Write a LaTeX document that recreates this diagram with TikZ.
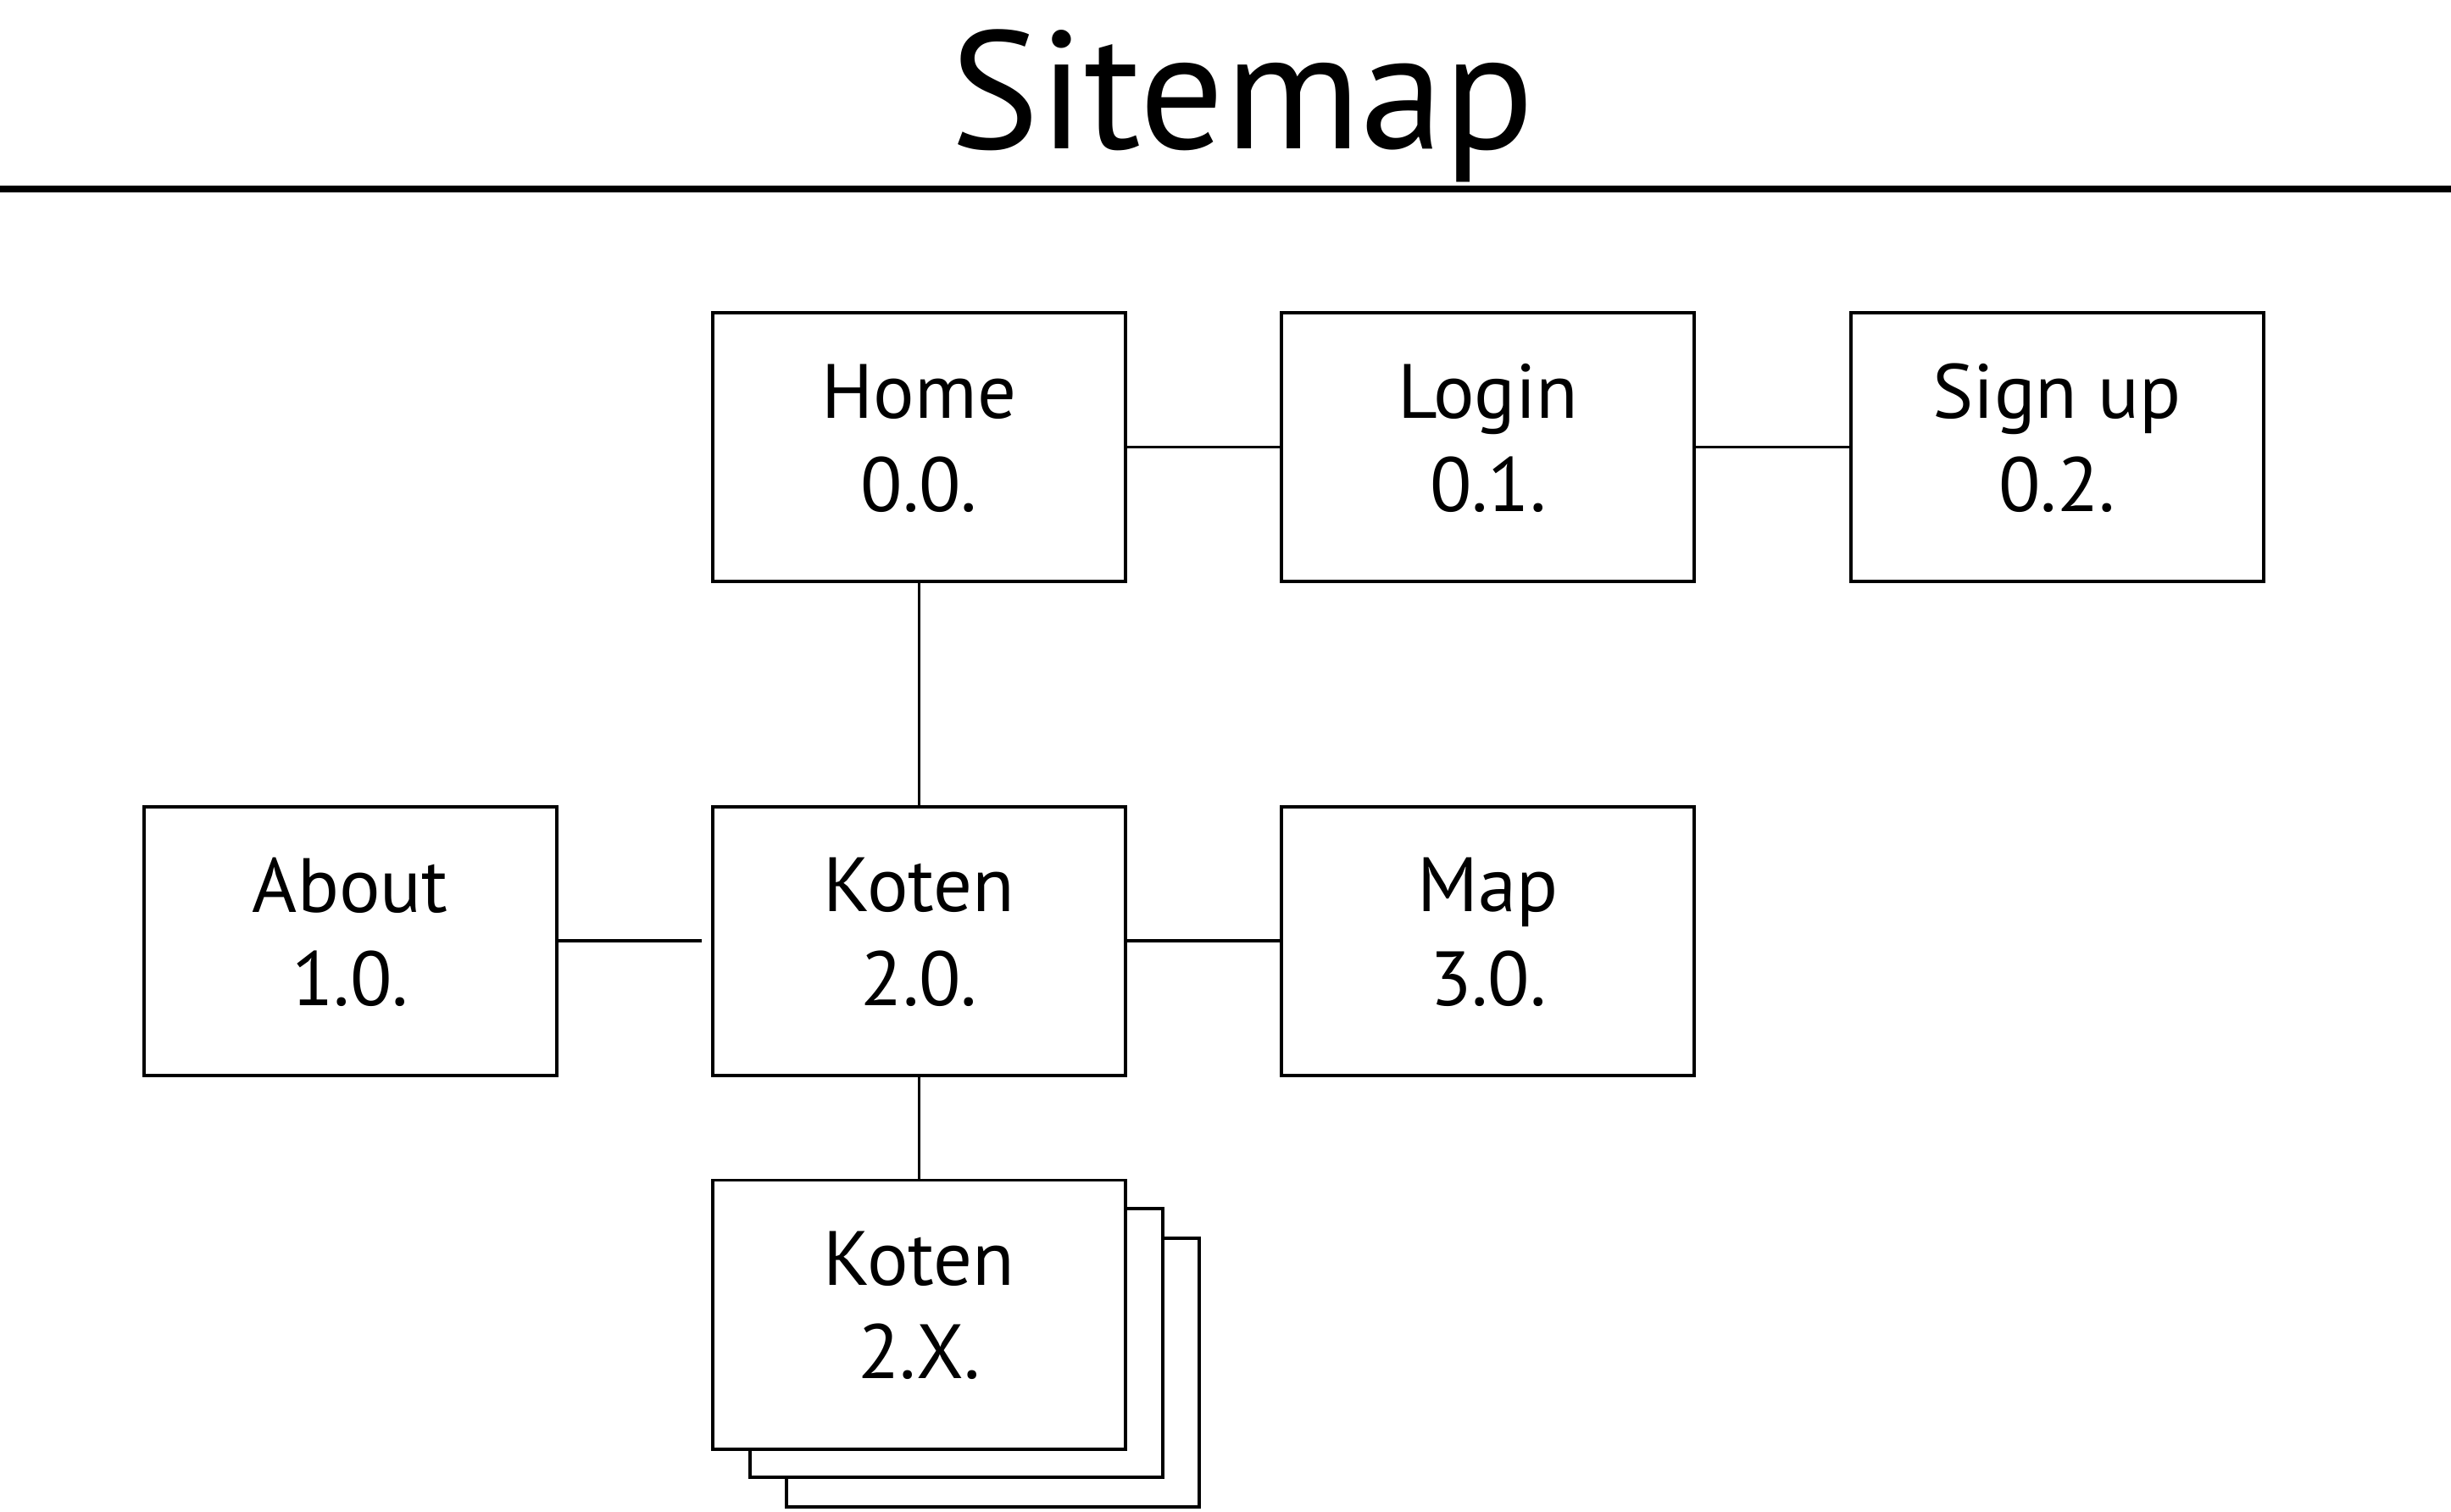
\documentclass[tikz,border=0pt]{standalone}
\usepackage{fontspec}
\setmainfont{PT Sans}
\begin{document}
\begin{tikzpicture}
\tikzset{boite/.style={draw, line width=0.6pt, fill=white, minimum width=2.64cm, minimum height=1.72cm, align=center, inner sep=0pt, text depth=0.12cm, font=\fontsize{14}{17}\selectfont}}
\useasboundingbox (0, 0) rectangle (15.68, 9.67);
\node[anchor=base, font=\fontsize{30.5}{34}\selectfont] (titre) at (7.95, 8.72) {Sitemap};
\draw[line width=1.3pt] (0, 8.46) -- (15.68, 8.46);
\node[boite] (P00) at (5.88, 6.81) {Home\\0.0.};
\node[boite] (P01) at (9.52, 6.81) {Login\\0.1.};
\node[boite] (P02) at (13.16, 6.81) {Sign up\\0.2.};
\node[boite] (P10) at (2.24, 3.65) {About\\1.0.};
\node[boite] (P20) at (5.88, 3.65) {Koten\\2.0.};
\node[boite] (P30) at (9.52, 3.65) {Map\\3.0.};
\node[boite] (P2Xc) at (6.35, 0.89) {};
\node[boite] (P2Xb) at (6.12, 1.08) {};
\node[boite] (P2X) at (5.88, 1.26) {Koten\\2.X.};
\draw[line width=0.6pt] (P00) -- (P01);
\draw[line width=0.6pt] (P01) -- (P02);
\draw[line width=0.6pt] (P00) -- (P20);
\draw[line width=0.6pt, shorten >=0.06cm] (P10) -- (P20);
\draw[line width=0.6pt] (P20) -- (P30);
\draw[line width=0.6pt] (P20) -- (P2X);
\end{tikzpicture}
\end{document}
